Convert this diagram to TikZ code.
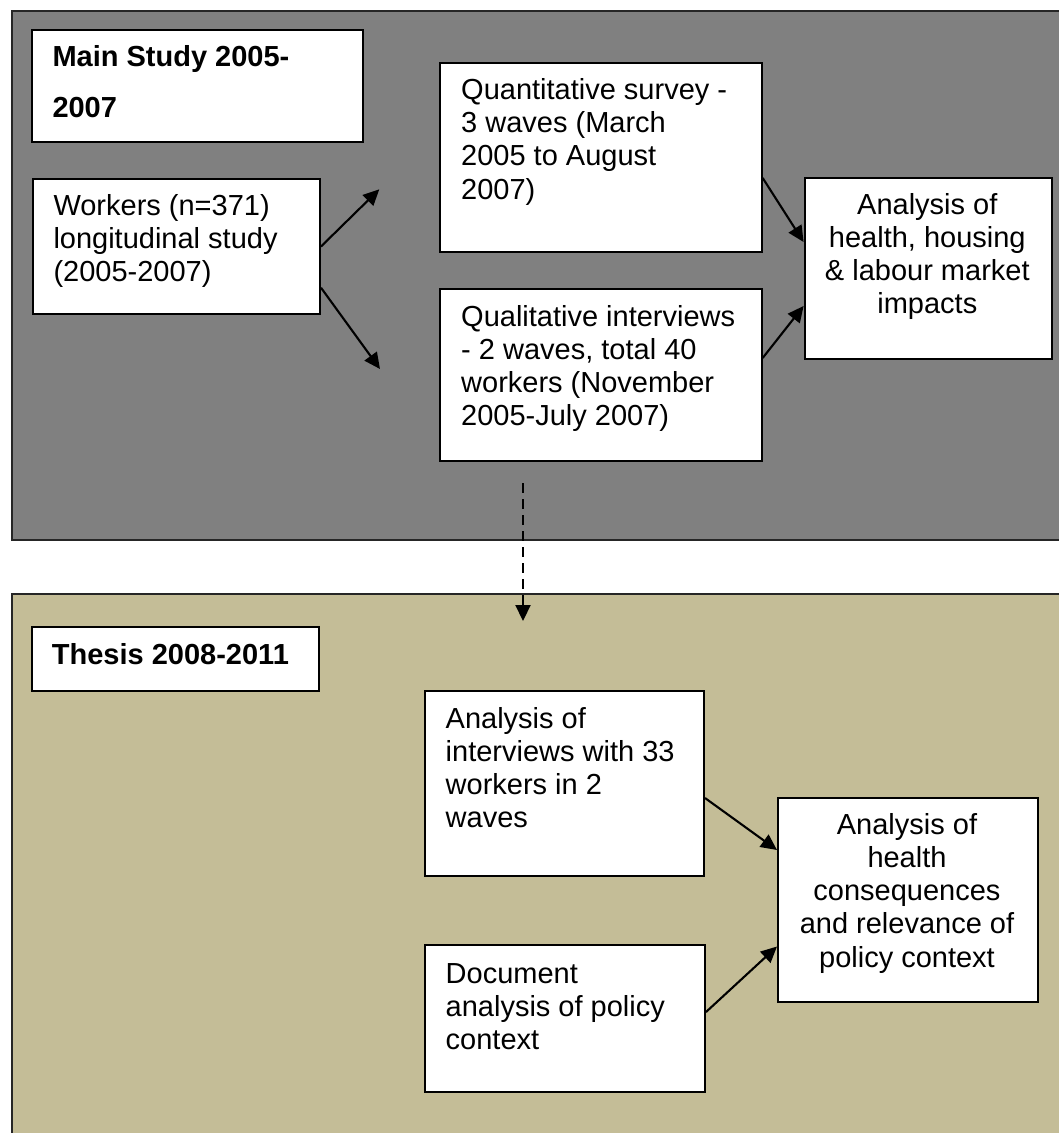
\documentclass[tikz,border=0pt]{standalone}
\usepackage{fontspec}
\setmainfont{Liberation Sans}
\usetikzlibrary{arrows.meta}
\definecolor{panelgray}{HTML}{808080}
\definecolor{paneltan}{HTML}{C4BD97}
\newcommand\txtfont{\fontsize{29}{33.3}\selectfont}
\newcommand\hdfont{\fontsize{29}{50.6}\selectfont\bfseries}
\newcommand\lefttext[1]{\parbox[t]{330pt}{\txtfont\raggedright #1}}
\newcommand\midtext[1]{\parbox[t]{300pt}{\txtfont\centering #1}}
\begin{document}
\begin{tikzpicture}[x=1pt,y=-1pt,
  panel/.style={draw=black!85, line width=2.2pt, anchor=north west, inner sep=0pt},
  box/.style={draw=black, fill=white, line width=2pt, anchor=north west, inner sep=0pt},
  txt/.style={anchor=base west, inner sep=0pt},
  ctxt/.style={anchor=base, inner sep=0pt},
  arr/.style={-{Triangle[length=16pt,width=15pt]}, line width=2.1pt, draw=black}]
\useasboundingbox (0,0) rectangle (1059,1133);
\clip (0,0) rectangle (1059,1133);
% panels
\node[panel, fill=panelgray, minimum width=1070pt, minimum height=529.4pt] (top) at (10.5,9.6) {};
\node[panel, fill=paneltan, minimum width=1070pt, minimum height=560pt] (bot) at (10.5,593) {};
% top boxes
\node[box, minimum width=331pt, minimum height=111.4pt] (ms) at (31,29.3) {};
\node[box, minimum width=286.7pt, minimum height=135.6pt] (wk) at (32.3,177.7) {};
\node[box, minimum width=321.4pt, minimum height=188.4pt] (qt) at (439.3,62.3) {};
\node[box, minimum width=321.4pt, minimum height=171.7pt] (ql) at (439.3,288.3) {};
\node[box, minimum width=247.4pt, minimum height=181pt] (an1) at (803.6,177) {};
% bottom boxes
\node[box, minimum width=287.6pt, minimum height=64pt] (th) at (30.8,626) {};
\node[box, minimum width=279pt, minimum height=185pt] (iv) at (424,690) {};
\node[box, minimum width=280pt, minimum height=147pt] (dc) at (424,944) {};
\node[box, minimum width=260pt, minimum height=204pt] (an2) at (777,797) {};
% texts
\node[txt] (mst) at (52.3,66.7) {\parbox[t]{330pt}{\hdfont Main Study 2005-\\2007}};
\node[txt] (wkt) at (53.3,215) {\lefttext{Workers (n=371)\\longitudinal study\\(2005-2007)}};
\node[txt] (qtt) at (461,99.3) {\lefttext{Quantitative survey -\\3 waves (March\\2005 to August\\2007)}};
\node[txt] (qlt) at (461,326) {\lefttext{Qualitative interviews\\- 2 waves, total 40\\workers (November\\2005-July 2007)}};
\node[ctxt] (an1t) at (927.3,214) {\midtext{Analysis of\\health, housing\\\& labour market\\impacts}};
\node[txt] (tht) at (51.7,664) {\parbox[t]{330pt}{\hdfont Thesis 2008-2011}};
\node[txt] (ivt) at (445.5,728) {\lefttext{Analysis of\\interviews with 33\\workers in 2\\waves}};
\node[txt] (dct) at (445.5,983) {\lefttext{Document\\analysis of policy\\context}};
\node[ctxt] (an2t) at (907,834) {\midtext{Analysis of\\health\\consequences\\and relevance of\\policy context}};
% free ends
\coordinate (a1) at (379.3,189.3);
\coordinate (a2) at (380,369);
\coordinate (d1) at (523,483);
\coordinate (d2) at (523,621);
% connectors
\draw[arr] (wk.east) -- (a1);
\draw[arr] ([yshift=-41.2pt]wk.east) -- (a2);
\draw[arr] ([yshift=-20.5pt]qt.east) -- ([yshift=26.5pt]an1.west);
\draw[arr] ([yshift=17.2pt]ql.east) -- ([yshift=-37.5pt]an1.west);
\draw[arr] ([yshift=-14.5pt]iv.east) -- ([yshift=50pt]an2.west);
\draw[arr] ([yshift=6.5pt]dc.east) -- ([yshift=-46.5pt]an2.west);
\draw[arr, dash pattern=on 10pt off 6pt] (d1) -- (d2);
\end{tikzpicture}
\end{document}
